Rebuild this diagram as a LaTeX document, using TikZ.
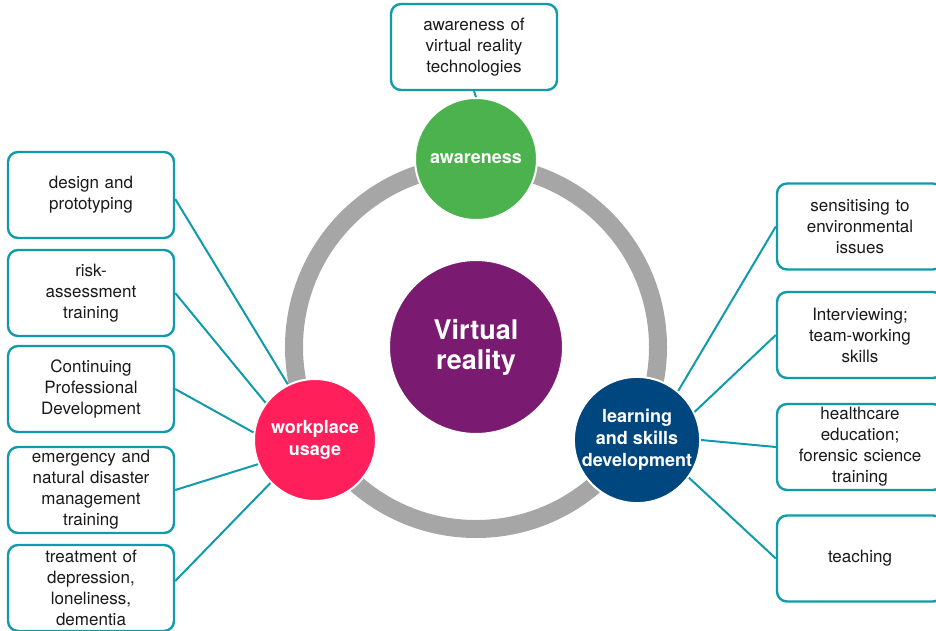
\documentclass[tikz,border=0pt]{standalone}
\usepackage{fontspec}
\setmainfont{TeX Gyre Heros}
\definecolor{teal1}{HTML}{119BAA}
\definecolor{vrgreen}{HTML}{4CB24E}
\definecolor{vrpink}{HTML}{FF1F5B}
\definecolor{vrnavy}{HTML}{00477F}
\definecolor{vrpurple}{HTML}{7A1A70}
\definecolor{ringgray}{HTML}{A6A6A6}
\definecolor{txt}{HTML}{1A1A1A}
\begin{document}
\begin{tikzpicture}[x=1pt,y=-1pt,
  infobox/.style={draw=teal1, line width=2.4pt, rounded corners=10pt, fill=white,
    minimum width=166pt, minimum height=86pt, text width=150pt, align=center,
    inner sep=0pt, text=txt, font=\fontsize{17}{21}\selectfont},
  hub/.style={circle, draw=white, line width=2pt, inner sep=0pt, align=center,
    text=white, font=\bfseries\fontsize{18}{22}\selectfont},
  link/.style={draw=teal1, line width=2pt}]
\useasboundingbox (0,0) rectangle (936,631);
\clip (0,0) rectangle (936,631);
% ring
\draw[ringgray, line width=18pt] (476,347) circle[radius=182];
% central circle
\node[hub, fill=vrpurple, minimum size=174pt, font=\bfseries\fontsize{27}{30}\selectfont] (vr) at (476,347) {Virtual\\reality};
% hubs
\node[hub, fill=vrgreen, minimum size=122pt] (aw) at (476,159) {awareness};
\node[hub, fill=vrpink, minimum size=122pt] (wp) at (315,440) {workplace\\usage};
\node[hub, fill=vrnavy, minimum size=122pt] (ls) at (637,440) {learning\\and skills\\development};
% top box
\node[infobox] (t1) at (474,47) {awareness of\\virtual reality\\technologies};
% left boxes
\node[infobox] (l1) at (91,195) {design and\\prototyping};
\node[infobox] (l2) at (91,293) {risk-\\assessment\\training};
\node[infobox] (l3) at (91,389) {Continuing\\Professional\\Development};
\node[infobox] (l4) at (91,490) {emergency and\\natural disaster\\management\\training};
\node[infobox] (l5) at (91,588) {treatment of\\depression,\\loneliness,\\dementia};
% right boxes
\node[infobox] (r1) at (860,226.5) {sensitising to\\environmental\\issues};
\node[infobox] (r2) at (860,335) {Interviewing;\\team-working\\skills};
\node[infobox] (r3) at (860,447) {healthcare\\education;\\forensic science\\training};
\node[infobox] (r4) at (860,558.5) {teaching};
% connectors
\draw[link] (t1.south) -- (aw.north);
\draw[link] ([yshift=-4pt]l1.east) -- (wp.116);
\draw[link] (l2.east) -- (wp.143);
\draw[link] (l3.east) -- (wp.173);
\draw[link] (l4.east) -- (wp.203);
\draw[link] ([yshift=7pt]l5.east) -- (wp.224);
\draw[link] (r1.west) -- (ls.50);
\draw[link] (r2.west) -- (ls.26);
\draw[link] (r3.west) -- (ls.0);
\draw[link] (r4.west) -- (ls.-36);
\end{tikzpicture}
\end{document}
